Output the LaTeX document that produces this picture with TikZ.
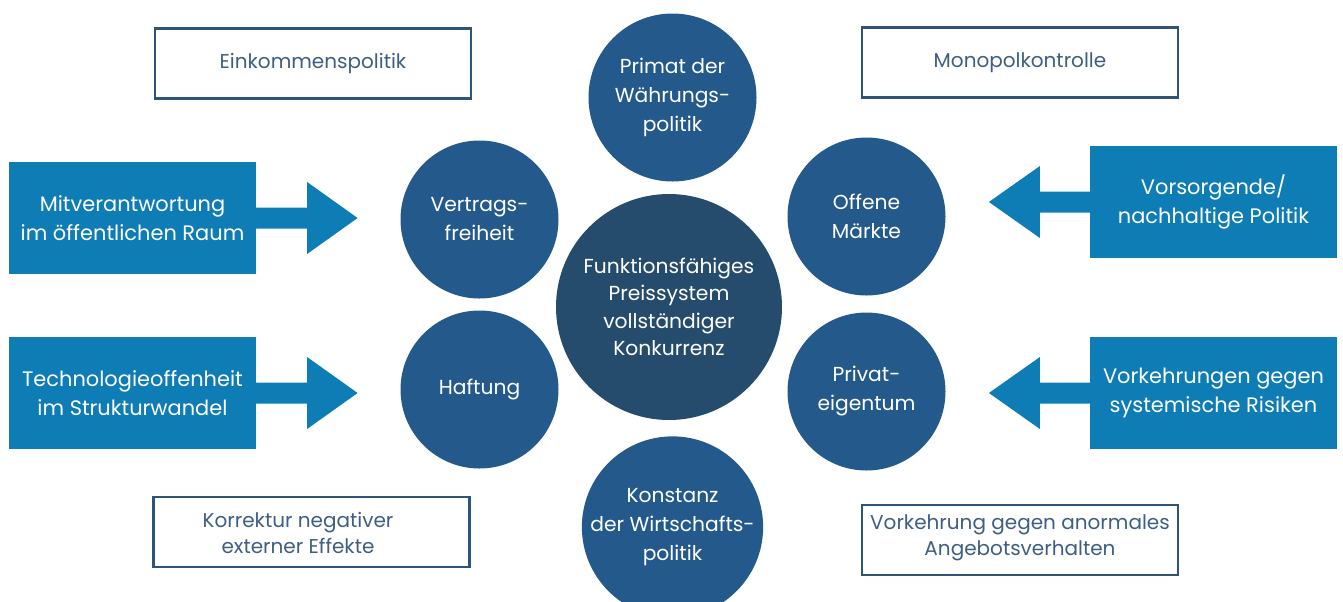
\documentclass[tikz,border=0pt]{standalone}
\usepackage{fontspec}
\setmainfont{Poppins}
\definecolor{circblue}{HTML}{24598C}
\definecolor{centblue}{HTML}{254C6C}
\definecolor{boxblue}{HTML}{0E7CB5}
\definecolor{framecol}{HTML}{2E5478}
\definecolor{frametext}{HTML}{3F5E84}
\begin{document}
\begin{tikzpicture}[x=0.75pt,y=-0.75pt,
  circ/.style={circle,fill=circblue,draw=none,text=white,align=center,inner sep=0pt,
    minimum size=118.5pt,font=\fontsize{15.2}{21.75}\selectfont},
  bigcirc/.style={circle,fill=centblue,draw=none,text=white,align=center,inner sep=0pt,
    minimum size=169.5pt,font=\fontsize{15.2}{20.5}\selectfont},
  topcirc/.style={circ,minimum size=126pt},
  bluebox/.style={rectangle,fill=boxblue,draw=none,text=white,align=center,inner sep=0pt,
    minimum width=185pt,minimum height=84pt,font=\fontsize{15.7}{21.75}\selectfont},
  framebox/.style={rectangle,draw=framecol,line width=2.2pt,fill=white,inner sep=0pt,
    minimum width=237pt,minimum height=52.5pt},
  frametxt/.style={text=frametext,align=center,inner sep=0pt,font=\fontsize{15}{19.5}\selectfont},
  arr/.style={fill=boxblue,draw=none}
]
\useasboundingbox (0,0) rectangle (1343,601);

% outline boxes
\node[framebox] (ek) at (313,63.5) {};
\node[frametxt] (ekt) at (313,63.5) {Einkommenspolitik};
\node[framebox] (mk) at (1020,62.5) {};
\node[frametxt] (mkt) at (1020,62.5) {Monopolkontrolle};
\node[framebox] (ko) at (311.5,532) {};
\node[frametxt] (kot) at (298,532.5) {Korrektur negativer\\externer Effekte};
\node[framebox] (va) at (1020,540) {};
\node[frametxt] (vat) at (1020,538) {Vorkehrung gegen anormales\\Angebotsverhalten};

% circles
\node[bigcirc] (c) at (669,307) {Funktionsf\"ahiges\\Preissystem\\vollst\"andiger\\Konkurrenz};
\node[topcirc] (pw) at (672.5,97.5) {Primat der\\W\"ahrungs-\\politik};
\node[topcirc] (kw) at (672.5,527) {Konstanz\\der Wirtschafts-\\politik};
\node[circ] (vf) at (479.5,219.5) {Vertrags-\\freiheit};
\node[circ] (hf) at (479.5,389.5) {Haftung};
\node[circ] (om) at (866.5,216.5) {Offene\\M\"arkte};
\node[circ] (pe) at (866.5,391.5) {Privat-\\eigentum};

% blue boxes
\node[bluebox] (mv) at (132.5,218) {Mitverantwortung\\im \"offentlichen Raum};
\node[bluebox] (to) at (132.5,393) {Technologieoffenheit\\im Strukturwandel};
\node[bluebox] (vp) at (1213.5,202) {Vorsorgende/\\nachhaltige Politik};
\node[bluebox] (vs) at (1213.5,393) {Vorkehrungen gegen\\systemische Risiken};

% block arrows from boxes
\fill[arr] (mv.east) ++(0,-10.5) -- ++(51,0) -- ++(0,-25.5) -- ++(50.5,36) -- ++(-50.5,36) -- ++(0,-25.5) -- ++(-51,0) -- cycle;
\fill[arr] (to.east) ++(0,-10.5) -- ++(51,0) -- ++(0,-25.5) -- ++(50.5,36) -- ++(-50.5,36) -- ++(0,-25.5) -- ++(-51,0) -- cycle;
\fill[arr] (vp.west) ++(0,-10.5) -- ++(-50,0) -- ++(0,-25.5) -- ++(-51,36) -- ++(51,36) -- ++(0,-25.5) -- ++(50,0) -- cycle;
\fill[arr] (vs.west) ++(0,-10.5) -- ++(-50,0) -- ++(0,-25.5) -- ++(-51,36) -- ++(51,36) -- ++(0,-25.5) -- ++(50,0) -- cycle;
\end{tikzpicture}
\end{document}
